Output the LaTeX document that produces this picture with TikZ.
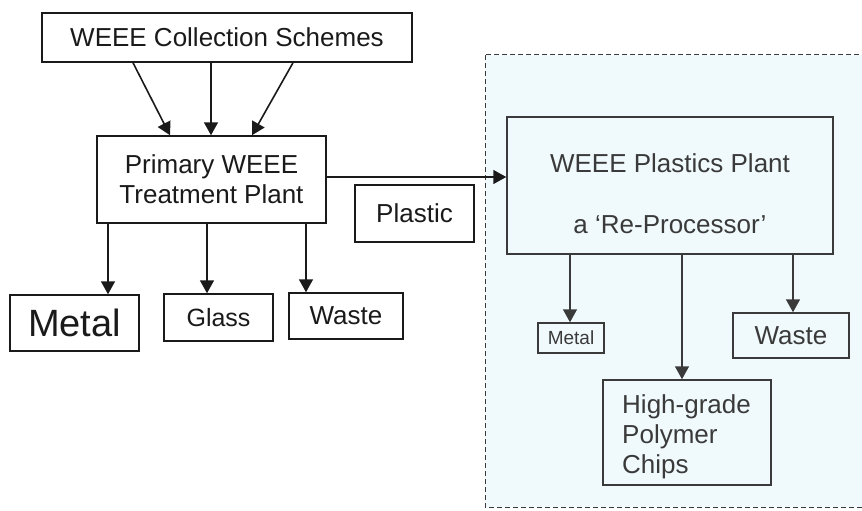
\documentclass[tikz,border=0pt]{standalone}
\usepackage{fontspec}
\setmainfont{Liberation Sans}
\usetikzlibrary{arrows.meta}
\definecolor{panel}{HTML}{F0FAFC}
\definecolor{ink}{HTML}{1A1A1A}
\definecolor{grayink}{HTML}{3A3A3A}
\tikzset{
  box/.style={draw=ink, line width=1.5pt, text=ink, inner sep=0pt, align=center,
              font=\fontsize{26}{30}\selectfont},
  rbox/.style={box, draw=grayink, text=grayink},
  rtext/.style={text=grayink, inner sep=0pt, font=\fontsize{26}{30}\selectfont},
  arr/.style={draw=ink, line width=1.6pt, -{Triangle[length=13pt,width=14pt]}},
}
\begin{document}
\begin{tikzpicture}[x=1pt,y=-1pt]
\useasboundingbox (0,0) rectangle (862,511);
\fill[white] (0,0) rectangle (862,511);
% dashed panel
\begin{scope}
\clip (0,0) rectangle (862,511);
\draw[fill=panel, draw=grayink, line width=1pt, dash pattern=on 5pt off 3pt] (485,55) rectangle (880,507);
\end{scope}
% left nodes
\node[box, minimum width=370, minimum height=49] (coll) at (227,37.5) {WEEE Collection Schemes};
\node[box, minimum width=229, minimum height=87] (prim) at (211.5,179.5) {Primary WEEE\\Treatment Plant};
\node[box, minimum width=119, minimum height=57] (plastic) at (414.5,213.5) {Plastic};
\node[box, minimum width=129, minimum height=56, font=\fontsize{38}{42}\selectfont] (metal) at (74.5,323) {Metal};
\node[box, minimum width=109, minimum height=47, font=\fontsize{25}{30}\selectfont] (glass) at (218.5,317.5) {Glass};
\node[box, minimum width=114, minimum height=46] (waste) at (346,316) {Waste};
% right nodes
\node[rbox, minimum width=326, minimum height=137] (wpp) at (670,185.5) {};
\node[rtext] (wppA) at (670,163) {WEEE Plastics Plant};
\node[rtext] (wppB) at (670,225) {a `Re-Processor'};
\node[rbox, minimum width=66, minimum height=30, font=\fontsize{19}{22}\selectfont] (metal2) at (571,338) {Metal};
\node[rbox, minimum width=116, minimum height=45] (waste2) at (791,335.5) {Waste};
\node[rbox, minimum width=168, minimum height=105] (chips) at (687,432.5) {};
\node[rtext, anchor=west, align=left] (chipsT) at (622,437) {High-grade\\Polymer\\Chips};
% connectors
\draw[arr] (coll.south -| 133,0) -- (prim.north -| 170,0);
\draw[arr] (coll.south -| 211,0) -- (prim.north -| 211,0);
\draw[arr] (coll.south -| 293,0) -- (prim.north -| 252,0);
\draw[arr] (prim.east |- 0,177) -- (wpp.west |- 0,177);
\draw[arr] (prim.south -| 108,0) -- (metal.north -| 108,0);
\draw[arr] (prim.south -| 207,0) -- (glass.north -| 207,0);
\draw[arr] (prim.south -| 306,0) -- (waste.north -| 306,0);
\draw[arr, draw=grayink] (wpp.south -| 570,0) -- (metal2.north -| 570,0);
\draw[arr, draw=grayink] (wpp.south -| 682,0) -- (chips.north -| 682,0);
\draw[arr, draw=grayink] (wpp.south -| 793,0) -- (waste2.north -| 793,0);
\end{tikzpicture}
\end{document}
